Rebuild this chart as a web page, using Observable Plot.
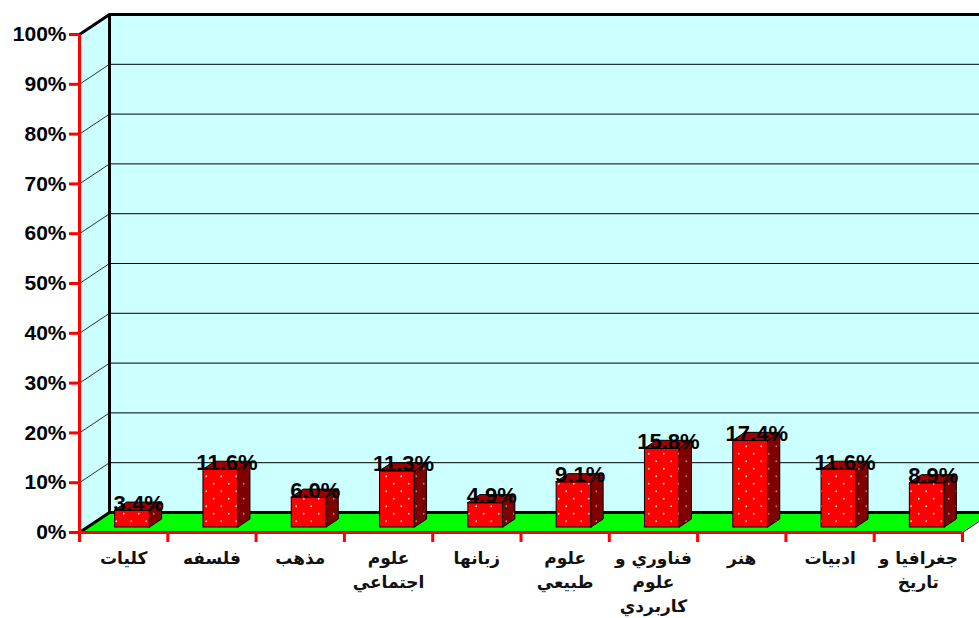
<!DOCTYPE html>
<html><head><meta charset="utf-8">
<script src="https://cdn.jsdelivr.net/npm/d3@7"></script>
<script src="https://cdn.jsdelivr.net/npm/@observablehq/plot@0.6"></script>
<style>body{margin:0;background:#fff;overflow:hidden} #chart svg{overflow:hidden}</style>
</head><body><div id="chart"></div>
<script>
const categories = ["كليات","فلسفه","مذهب","علوم\nاجتماعي","زبانها","علوم\nطبيعي","فناوري و\nعلوم\nكاربردي","هنر","ادبيات","جغرافيا و\nتاريخ"];
const values = [3.4, 11.6, 6.0, 11.3, 4.9, 9.1, 15.8, 17.4, 11.6, 8.9];
const yTicks = [0, 10, 20, 30, 40, 50, 60, 70, 80, 90, 100];

const W = 979, H = 618, mL = 79, mR = 17, mT = 34, mB = 86;
const n = categories.length;
const kx = n / (W - mL - mR);      // data units per pixel (x)
const ky = 100 / (H - mT - mB);    // data units per pixel (y)
const depthX = 30 * kx, depthY = 20 * ky;
const barOff = 9, barHalf = 17.5, barDX = 12, barDY = 8, barLift = 5, labelOff = 15;

const bars = values.map((v, i) => {
  const c = i + 0.5;
  return {i, v, x1: c + (barOff - barHalf) * kx, x2: c + (barOff + barHalf) * kx, y1: barLift * ky, y2: v + barLift * ky};
});
const sides = bars.flatMap(b => [
  {i: b.i, x: b.x2, y1: b.y1, y2: b.y2},
  {i: b.i, x: b.x2 + barDX * kx, y1: b.y1 + barDY * ky, y2: b.y2 + barDY * ky}
]);
const tops = bars.flatMap(b => [
  {i: b.i, y: b.y2, x1: b.x1, x2: b.x2},
  {i: b.i, y: b.y2 + barDY * ky, x1: b.x1 + barDX * kx, x2: b.x2 + barDX * kx}
]);
const grid = yTicks.slice(1, 10);
const font = "'Liberation Sans', Arial, 'DejaVu Sans', sans-serif";

const chart = Plot.plot({
  width: W, height: H,
  marginLeft: mL, marginRight: mR, marginTop: mT, marginBottom: mB,
  style: {fontFamily: font, background: "#fff", overflow: "hidden"},
  x: {domain: [0, n], axis: null},
  y: {domain: [0, 100], axis: null},
  marks: [
    // walls and floor
    Plot.rect([0], {x1: () => depthX, x2: () => n + 1, y1: () => depthY, y2: () => 100 + depthY, fill: "#ccffff"}),
    Plot.areaY([{x: 0, y1: 0, y2: 100}, {x: depthX, y1: depthY, y2: 100 + depthY}], {x: "x", y1: "y1", y2: "y2", fill: "#ccffff"}),
    Plot.areaX([{y: 0, x1: 0, x2: n}, {y: depthY, x1: depthX, x2: n + depthX}], {y: "y", x1: "x1", x2: "x2", fill: "#00ff00"}),
    // gridlines
    Plot.ruleY(grid, {y: d => d + depthY, x1: () => depthX, x2: () => n + 1, stroke: "black", strokeWidth: 1}),
    Plot.link(grid, {x1: () => 0, y1: d => d, x2: () => depthX, y2: d => d + depthY, stroke: "black", strokeWidth: 0.8}),
    // borders
    Plot.line([[0, 100], [depthX, 100 + depthY], [n + 1, 100 + depthY]], {stroke: "black", strokeWidth: 3}),
    Plot.line([[0, 0], [depthX, depthY], [depthX, 100 + depthY]], {stroke: "black", strokeWidth: 3}),
    Plot.line([[depthX, depthY], [n + 1, depthY]], {stroke: "black", strokeWidth: 3}),
    Plot.line([[n, 0], [n + depthX, depthY]], {stroke: "black", strokeWidth: 1}),
    // bars
    Plot.rect(bars, {x1: "x1", x2: "x2", y1: "y1", y2: "y2", fill: "url(#dotsFront)", stroke: "black", strokeWidth: 1}),
    Plot.areaY(sides, {x: "x", y1: "y1", y2: "y2", z: "i", fill: "url(#dotsSide)", stroke: "black", strokeWidth: 1}),
    Plot.areaX(tops, {y: "y", x1: "x1", x2: "x2", z: "i", fill: "#a00000", stroke: "black", strokeWidth: 1}),
    // value labels
    Plot.text(bars, {x: b => b.i + 0.5 + labelOff * kx, y: "y2", text: b => b.v.toFixed(1) + "%", lineAnchor: "bottom", fontSize: 22, fontWeight: "bold", fill: "black"}),
    // axes
    Plot.ruleX([0], {y1: 0, y2: 100, stroke: "red", strokeWidth: 3}),
    Plot.ruleY([0], {x1: 0, x2: n, stroke: "red", strokeWidth: 3}),
    Plot.axisY(yTicks, {tickSize: 10, tickPadding: 3, stroke: "red", strokeWidth: 3, tickFormat: d => d + "%", fontSize: 21, fontWeight: "bold", fill: "black"}),
    Plot.axisX(d3.range(n + 1), {tickSize: 10, tickFormat: () => "", stroke: "red", strokeWidth: 3}),
    Plot.text(categories, {x: (d, i) => i + 0.5, y: () => 0, text: d => d, dy: 14, lineAnchor: "top", lineHeight: 1.42, fontSize: 17, fontWeight: "bold", fill: "#111", fontFamily: "'DejaVu Sans', sans-serif"})
  ]
});

// dot patterns for bar faces
const ns = "http://www.w3.org/2000/svg";
const defs = document.createElementNS(ns, "defs");
function pattern(id, bg, dot) {
  const p = document.createElementNS(ns, "pattern");
  p.setAttribute("id", id); p.setAttribute("patternUnits", "userSpaceOnUse");
  p.setAttribute("width", 15); p.setAttribute("height", 15);
  const r = document.createElementNS(ns, "rect");
  r.setAttribute("width", 15); r.setAttribute("height", 15); r.setAttribute("fill", bg);
  p.appendChild(r);
  for (const [cx, cy] of [[3.75, 3.75], [11.25, 11.25]]) {
    const c = document.createElementNS(ns, "circle");
    c.setAttribute("cx", cx); c.setAttribute("cy", cy); c.setAttribute("r", 0.9); c.setAttribute("fill", dot);
    p.appendChild(c);
  }
  defs.appendChild(p);
}
pattern("dotsFront", "#ff0000", "#ffe0e0");
pattern("dotsSide", "#800000", "#b08080");
chart.insertBefore(defs, chart.firstChild);
document.getElementById("chart").appendChild(chart);
</script>
</body></html>
